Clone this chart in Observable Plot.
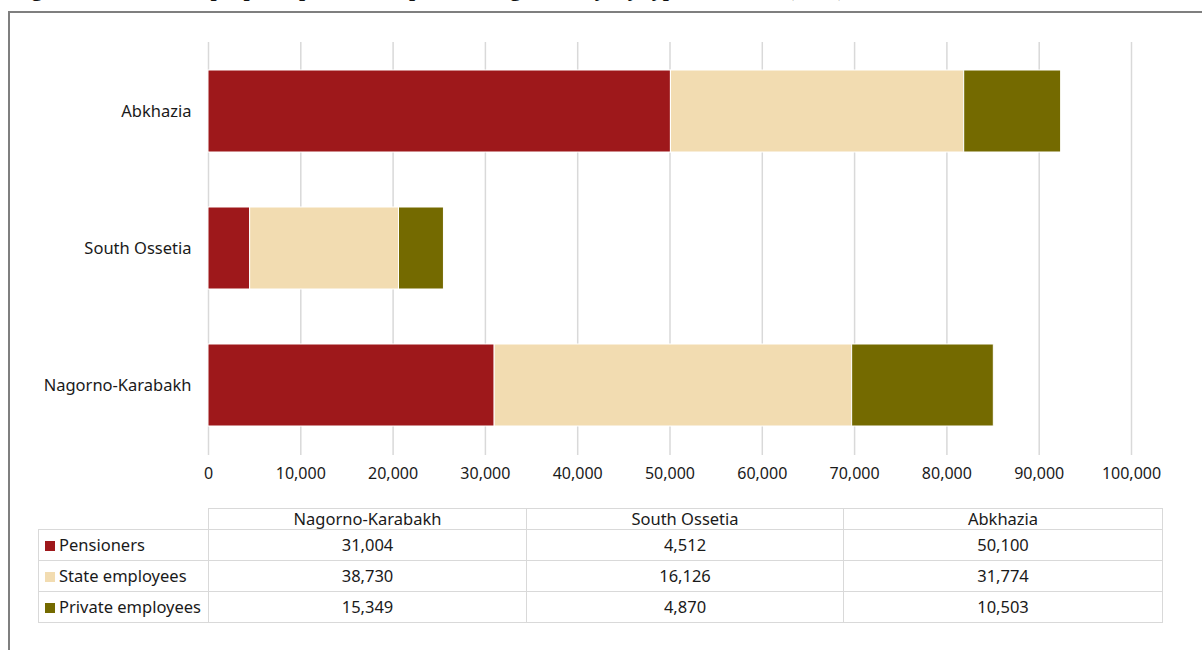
<!DOCTYPE html>
<html>
<head>
<meta charset="utf-8">
<script src="https://cdn.jsdelivr.net/npm/d3@7"></script>
<script src="https://cdn.jsdelivr.net/npm/@observablehq/plot@0.6"></script>
<style>
  html, body { margin: 0; padding: 0; background: #fff; }
  body { width: 1202px; height: 650px; position: relative; overflow: hidden; font-family: "Noto Sans", sans-serif; color: #1a1a1a; }
  #title { position: absolute; left: 12px; top: -22px; font: bold 22px/22px "Liberation Serif", serif; white-space: nowrap; color: #111; }
  #frame { position: absolute; left: 8px; top: 11px; right: -5px; bottom: -5px; border-left: 2px solid #7f7f7f; border-top: 2px solid #7f7f7f; }
  #chart { position: absolute; left: 0; top: 0; }
  #tbl { position: absolute; left: 38px; top: 508px; border-collapse: collapse; font-size: 16.5px; table-layout: fixed; }
  #tbl td { border: 1.5px solid #d9d9d9; padding: 0; text-align: center; white-space: nowrap; }
  #tbl tr.head td { height: 20px; line-height: 20px; }
  #tbl tr.body td { height: 30px; line-height: 30px; }
  #tbl td.blank { border-top: none; border-left: none; }
  #tbl td.lab { text-align: left; padding-left: 6px; }
  .sw { display: inline-block; width: 10px; height: 10px; margin-right: 4px; vertical-align: 0px; }
</style>
</head>
<body>
<div id="title">Figure 8: Number of people dependent on public budget money, by type of income (2012)</div>
<div id="frame"></div>
<div id="chart"></div>
<table id="tbl"></table>
<script>
const regions = ["Nagorno-Karabakh", "South Ossetia", "Abkhazia"];
const seriesNames = ["Pensioners", "State employees", "Private employees"];
const pensioners = [31004, 4512, 50100];
const stateEmployees = [38730, 16126, 31774];
const privateEmployees = [15349, 4870, 10503];
const colors = ["#9e181b", "#f2dcb1", "#746a00"];
const xTicks = [0, 10000, 20000, 30000, 40000, 50000, 60000, 70000, 80000, 90000, 100000];

const seriesValues = [pensioners, stateEmployees, privateEmployees];
const rows = [];
seriesNames.forEach((s, si) => regions.forEach((r, ri) => rows.push({region: r, series: s, value: seriesValues[si][ri]})));

const fmt = d3.format(",");

const plot = Plot.plot({
  width: 1202,
  height: 500,
  marginLeft: 208,
  marginRight: 71,
  marginTop: 42,
  marginBottom: 45,
  style: {fontFamily: "Noto Sans, sans-serif", fontSize: "16.5px", color: "#1a1a1a", background: "transparent"},
  x: {domain: [0, 100000], ticks: xTicks, tickFormat: fmt, tickSize: 0, tickPadding: 12, label: null},
  y: {domain: regions.slice().reverse(), paddingInner: 0.4, paddingOuter: 0.2, tickSize: 0, tickPadding: 17, label: null},
  color: {domain: seriesNames, range: colors},
  marks: [
    Plot.gridX(xTicks, {stroke: "#d9d9d9", strokeOpacity: 1, strokeWidth: 1.5}),
    Plot.barX(rows, Plot.stackX({y: "region", x: "value", fill: "series", order: seriesNames, stroke: "#ffffff", strokeWidth: 1, inset: 0})),
    Plot.axisX({ticks: xTicks, tickFormat: fmt, tickSize: 0, tickPadding: 12, fontSize: 16}),
    Plot.axisY({tickSize: 0, tickPadding: 17, fontSize: 16.5})
  ]
});
document.getElementById("chart").appendChild(plot);

// Data table below the chart
const tbl = d3.select("#tbl");
const cg = tbl.append("colgroup");
[170, 318, 317, 319].forEach(w => cg.append("col").style("width", w + "px"));
const head = tbl.append("tr").attr("class", "head");
head.append("td").attr("class", "blank");
regions.forEach(r => head.append("td").text(r));
seriesNames.forEach((s, si) => {
  const tr = tbl.append("tr").attr("class", "body");
  const lab = tr.append("td").attr("class", "lab");
  lab.append("span").attr("class", "sw").style("background", colors[si]);
  lab.append("span").text(s);
  regions.forEach((r, ri) => tr.append("td").text(fmt(seriesValues[si][ri])));
});
</script>
</body>
</html>
